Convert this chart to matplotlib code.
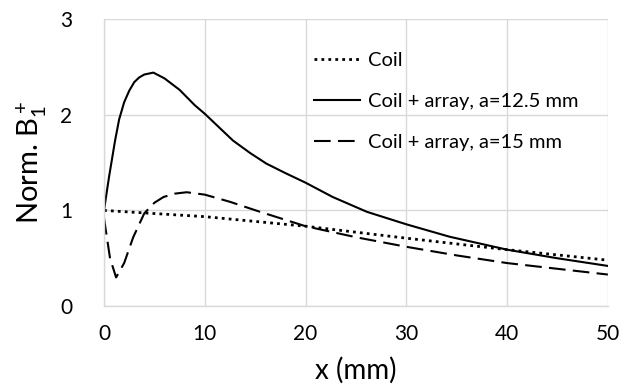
import matplotlib.pyplot as plt

plt.rcParams['font.family'] = ['Lato', 'DejaVu Sans']
plt.rcParams['mathtext.fontset'] = 'custom'
plt.rcParams['mathtext.rm'] = 'Lato'
plt.rcParams['mathtext.it'] = 'Lato'

# values
x_coil = [0, 10, 20, 30, 40, 50]
y_coil = [1.0, 0.935, 0.835, 0.71, 0.59, 0.48]

x_125 = [0, 0.5, 1.1, 1.5, 2.0, 2.5, 3.0, 3.5, 4.0, 4.9, 6.0, 7.5, 9, 10, 11.5, 12.8, 14.5, 16.1, 18, 20,
         22.7, 26.1, 30, 34.3, 40, 45, 50]
y_125 = [1.0, 1.35, 1.73, 1.95, 2.13, 2.25, 2.34, 2.39, 2.42, 2.44, 2.38, 2.26, 2.10, 2.01, 1.86, 1.73,
         1.60, 1.49, 1.39, 1.29, 1.14, 0.985, 0.855, 0.725, 0.59, 0.5, 0.42]

x_15 = [0, 0.6, 1.2, 2.0, 2.9, 4.0, 5.0, 5.9, 7.0, 8.2, 10, 12.5, 15.5, 20, 25, 30, 35, 40, 45, 50]
y_15 = [0.92, 0.5, 0.3, 0.45, 0.72, 0.97, 1.08, 1.14, 1.175, 1.19, 1.165, 1.09, 0.985, 0.835, 0.72, 0.62,
        0.53, 0.45, 0.39, 0.33]

grid_col = '#d9d9d9'

fig = plt.figure(figsize=(6.19, 3.88), dpi=100)
ax = fig.add_axes([0.168, 0.211, 0.814, 0.74])

ax.plot(x_coil, y_coil, color='black', lw=2, linestyle=(0, (1, 1.5)), label='Coil')
ax.plot(x_125, y_125, color='black', lw=1.5, label='Coil + array, a=12.5 mm')
ax.plot(x_15, y_15, color='black', lw=1.5, linestyle=(0, (8, 3.5)), label='Coil + array, a=15 mm')

ax.set_xlim(0, 50)
ax.set_ylim(0, 3)
ax.set_xticks([0, 10, 20, 30, 40, 50])
ax.set_yticks([0, 1, 2, 3])
ax.grid(True, color=grid_col, lw=1)
ax.set_axisbelow(True)
for s in ['top', 'right']:
    ax.spines[s].set_visible(False)
for s in ['left', 'bottom']:
    ax.spines[s].set_color(grid_col)
    ax.spines[s].set_linewidth(1)
ax.tick_params(length=0, labelsize=15, pad=13)
ax.tick_params(axis='y', pad=23)

ax.set_xlabel('x (mm)', fontsize=20, labelpad=9)
ax.set_ylabel('Norm. B$_1^+$', fontsize=21, labelpad=8)

leg = ax.legend(loc='upper left', bbox_to_anchor=(0.38, 0.95), frameon=False,
                fontsize=14.5, handlelength=2.3, handletextpad=0.4, labelspacing=1.2)

plt.savefig('out.png', dpi=100)
